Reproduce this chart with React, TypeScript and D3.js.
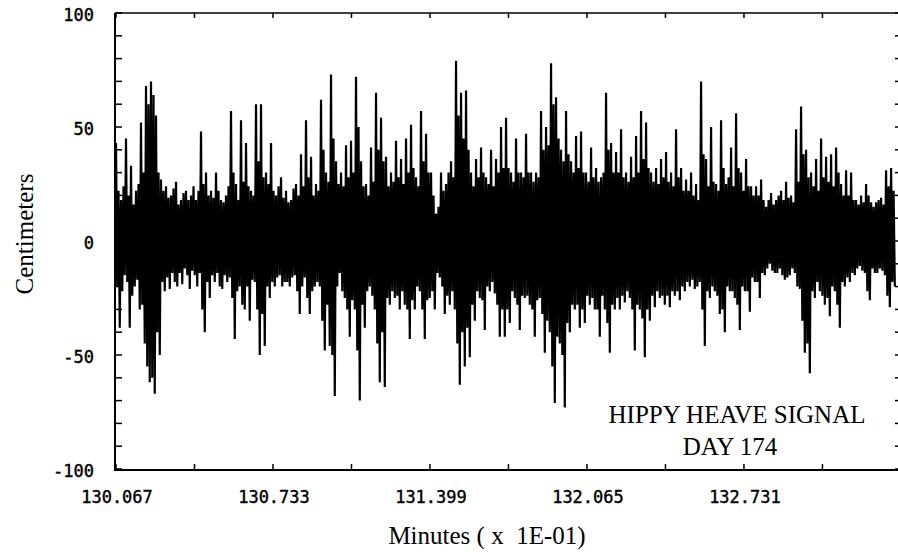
import React from "react";
import * as d3 from "d3";

// Tick values (minutes x 1E-01) and centimeter labels
const xMajorTicks = [130.067, 130.733, 131.399, 132.065, 132.731];
const yLabelTicks = [100, 50, 0, -50, -100];
const xDomain = [130.067, 133.376];
const yDomain = [-100, 100];
const sampleStep = 0.0053035; // sampling interval of the heave record

// Heave signal (cm), alternating crest / trough samples
const heaveA = [
  43, -20, 22, -38, 18, -22, 24, -15, 45, -18, 20, -38, 33, -24, 16, -20,
  22, -17, 25, -30, 52, -28, 30, -45, 68, -55, 60, -62, 70, -60, 64, -67,
  55, -40, 30, -50, 27, -18, 22, -22, 24, -16, 19, -21, 20, -14, 23, -18,
  26, -20, 16, -14, 18, -19, 21, -12, 22, -15, 18, -21, 20, -13, 24, -15,
  18, -20, 22, -14, 48, -30, 25, -40, 30, -18, 20, -25, 22, -15, 19, -18,
  30, -14, 22, -20, 18, -21, 17, -15, 20, -18, 24, -16, 57, -25, 30, -43,
  25, -22, 18, -20, 53, -28, 26, -30,
];
const heaveB = [
  43, -20, 24, -35, 22, -17, 20, -18, 60, -30, 35, -50, 60, -32, 28, -46,
  30, -20, 25, -25, 43, -18, 22, -20, 20, -16, 24, -15, 28, -20, 19, -18,
  22, -18, 17, -20, 18, -16, 23, -15, 25, -22, 20, -32, 38, -20, 24, -16,
  53, -25, 28, -32, 37, -22, 20, -20, 25, -18, 22, -20, 62, -35, 40, -48,
  30, -28, 26, -46, 73, -50, 45, -68, 35, -20, 25, -14, 30, -22, 24, -25,
  42, -30, 28, -42, 44, -26, 30, -30, 72, -48, 50, -70, 35, -28, 24, -38,
  25, -22, 20, -20, 41, -24, 26, -30,
];
const heaveC = [
  65, -45, 40, -62, 54, -40, 35, -64, 37, -25, 24, -28, 30, -22, 26, -25,
  44, -24, 28, -30, 36, -22, 25, -28, 45, -30, 30, -43, 51, -26, 32, -30,
  28, -20, 24, -22, 57, -30, 35, -43, 47, -26, 30, -25, 30, -22, 20, -30,
  12, -14, 15, -16, 30, -20, 22, -32, 25, -24, 30, -28, 35, -22, 28, -30,
  79, -45, 55, -63, 65, -40, 45, -55, 66, -38, 40, -51, 30, -28, 24, -35,
  36, -22, 28, -25, 41, -26, 30, -39, 28, -20, 25, -22, 40, -18, 24, -23,
  36, -28, 30, -42, 50, -30, 32, -42,
];
const heaveD = [
  54, -30, 32, -36, 30, -22, 26, -25, 45, -28, 30, -39, 30, -24, 28, -25,
  47, -24, 30, -28, 30, -30, 26, -42, 30, -26, 28, -25, 57, -32, 40, -49,
  50, -35, 42, -40, 78, -55, 60, -71, 63, -42, 45, -45, 40, -50, 35, -73,
  57, -36, 38, -40, 35, -28, 30, -30, 46, -28, 32, -38, 48, -30, 30, -36,
  30, -24, 26, -28, 41, -25, 28, -30, 32, -30, 26, -42, 28, -24, 30, -30,
  65, -36, 40, -49, 43, -28, 30, -30, 39, -25, 30, -30, 49, -24, 28, -27,
  30, -22, 26, -25, 37, -30, 28, -48,
];
const heaveE = [
  46, -28, 30, -30, 57, -34, 36, -51, 52, -30, 32, -35, 30, -24, 26, -29,
  32, -22, 25, -25, 36, -24, 28, -28, 39, -24, 26, -29, 30, -22, 24, -24,
  49, -22, 28, -26, 32, -20, 22, -22, 27, -18, 22, -20, 30, -17, 20, -21,
  25, -20, 18, -18, 70, -30, 38, -46, 36, -22, 24, -25, 50, -20, 26, -22,
  25, -24, 22, -32, 53, -30, 32, -40, 25, -20, 28, -22, 41, -22, 24, -25,
  56, -28, 32, -39, 30, -20, 22, -22, 36, -22, 24, -31, 24, -16, 20, -18,
  24, -18, 20, -25, 27, -14, 18, -15,
];
const heaveF = [
  15, -12, 18, -10, 21, -13, 16, -14, 18, -14, 20, -12, 22, -15, 18, -17,
  26, -16, 19, -15, 20, -12, 17, -14, 49, -20, 26, -21, 59, -35, 38, -49,
  40, -45, 28, -58, 30, -22, 24, -25, 36, -18, 22, -22, 45, -24, 28, -28,
  37, -25, 26, -33, 38, -20, 24, -22, 41, -28, 30, -38, 25, -18, 20, -20,
  31, -16, 20, -18, 30, -14, 18, -15, 18, -12, 16, -11, 20, -13, 17, -14,
  25, -22, 20, -26, 17, -12, 15, -14, 17, -14, 18, -12, 19, -13, 16, -15,
  31, -24, 24, -29, 32, -18, 22, -20,
];

const heave = [...heaveA, ...heaveB, ...heaveC, ...heaveD, ...heaveE, ...heaveF];
const series = heave.map((v, i) => ({ t: xDomain[0] + i * sampleStep, v }));

const W = 898;
const H = 552;
const left = 116;
const right = 896;
const top = 13;
const bottom = 469;

export default function App() {
  const x = d3.scaleLinear().domain(xDomain).range([left, right]);
  const y = d3.scaleLinear().domain(yDomain).range([bottom, top]);
  const line = d3
    .line<{ t: number; v: number }>()
    .x((d) => x(d.t))
    .y((d) => y(d.v));

  const yMinor = d3.range(-100, 101, 10);
  const xMinor = d3.range(0, 10).map((k) => xDomain[0] + k * 0.333).filter((t) => t <= xDomain[1]);

  const tickFont = "'DejaVu Sans Mono', monospace";
  const serif = "'Liberation Serif', 'Times New Roman', serif";

  return (
    <svg
      width={W}
      height={H}
      viewBox={`0 0 ${W} ${H}`}
      style={{ position: "absolute", left: 0, top: 0, background: "#fff", display: "block" }}
    >
      <rect x={0} y={0} width={W} height={H} fill="#fff" />
      <path d={line(series) || ""} fill="none" stroke="#000" strokeWidth={2.2} strokeLinejoin="bevel" />

      {/* frame */}
      <line x1={left - 1} x2={left - 1} y1={top} y2={bottom + 1} stroke="#000" strokeWidth={2} />
      <line x1={left - 1} x2={W} y1={top} y2={top} stroke="#000" strokeWidth={1.6} />
      <line x1={left - 2} x2={W} y1={bottom + 1} y2={bottom + 1} stroke="#000" strokeWidth={1.8} />

      {/* y ticks */}
      {yMinor.map((v) => (
        <g key={"yt" + v}>
          <line x1={left - 1} x2={left + 6} y1={y(v)} y2={y(v)} stroke="#000" strokeWidth={1.5} />
          <line x1={W - 3} x2={W} y1={y(v)} y2={y(v)} stroke="#000" strokeWidth={1.5} />
        </g>
      ))}
      {yLabelTicks.map((v) => (
        <text
          key={"yl" + v}
          x={94}
          y={y(v) + 2}
          textAnchor="end"
          dominantBaseline="central"
          fontFamily={tickFont}
          fontSize={17}
          stroke="#000"
          strokeWidth={0.4}
          fill="#000"
        >
          {v}
        </text>
      ))}

      {/* x ticks */}
      {xMinor.map((t, i) => (
        <g key={"xt" + i}>
          <line x1={x(t)} x2={x(t)} y1={bottom + 1} y2={bottom - 5} stroke="#000" strokeWidth={1.5} />
          <line x1={x(t)} x2={x(t)} y1={top} y2={top + 5} stroke="#000" strokeWidth={1.5} />
        </g>
      ))}
      {xMajorTicks.map((t) => (
        <text
          key={"xl" + t}
          x={x(t) + 1}
          y={503}
          textAnchor="middle"
          fontFamily={tickFont}
          fontSize={17}
          stroke="#000"
          strokeWidth={0.4}
          fill="#000"
        >
          {t.toFixed(3)}
        </text>
      ))}

      {/* axis titles */}
      <text
        transform="translate(33,234) rotate(-90)"
        textAnchor="middle"
        fontFamily={serif}
        fontSize={25}
        fill="#000"
      >
        Centimeters
      </text>
      <text x={487} y={544} textAnchor="middle" fontFamily={serif} fontSize={25} fill="#000" xmlSpace="preserve">
        Minutes ( x  1E-01)
      </text>

      {/* annotation */}
      <text x={737} y={423} textAnchor="middle" fontFamily={serif} fontSize={25} fill="#000">
        HIPPY HEAVE SIGNAL
      </text>
      <text x={730} y={455} textAnchor="middle" fontFamily={serif} fontSize={25} fill="#000">
        DAY 174
      </text>
    </svg>
  );
}
